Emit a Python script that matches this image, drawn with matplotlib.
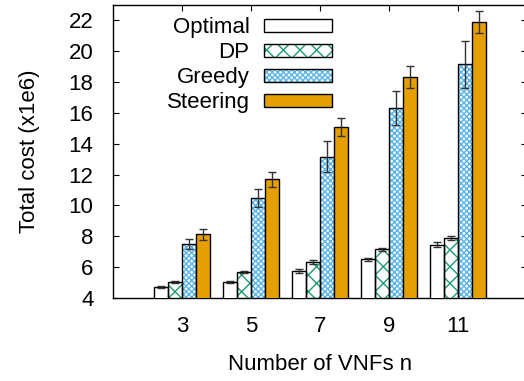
import matplotlib
matplotlib.use("Agg")
import matplotlib.pyplot as plt
import numpy as np

plt.rcParams['font.family'] = ['Liberation Sans', 'DejaVu Sans']
plt.rcParams['hatch.linewidth'] = 1.0

# data
vnfs = ["3", "5", "7", "9", "11"]
methods = ["Optimal", "DP", "Greedy", "Steering"]
optimal = [4.7, 5.05, 5.75, 6.5, 7.45]
dp = [5.05, 5.7, 6.35, 7.15, 7.88]
greedy = [7.5, 10.5, 13.15, 16.35, 19.15]
steering = [8.12, 11.7, 15.1, 18.35, 21.9]
optimal_err = [0.08, 0.08, 0.1, 0.12, 0.15]
dp_err = [0.08, 0.08, 0.12, 0.12, 0.12]
greedy_err = [0.35, 0.6, 1.0, 1.1, 1.5]
steering_err = [0.35, 0.5, 0.6, 0.7, 0.7]

values = [optimal, dp, greedy, steering]
errors = [optimal_err, dp_err, greedy_err, steering_err]
faces = ["white", "white", "white", "#e69f00"]
hatch_colors = [None, "#1a9e6e", "#56b4e9", None]
hatches = [None, "xx", "xxxxxx", None]

fs = 16
fig = plt.figure(figsize=(5.24, 3.81), dpi=100)
ax = fig.add_axes([113 / 524, 83 / 381, 414 / 524, 293 / 381])

x = np.arange(len(vnfs))
width = 0.2
handles = []
for i, name in enumerate(methods):
    pos = x + (i - 1.5) * width
    if hatches[i]:
        ax.bar(pos, values[i], width, color="white",
               edgecolor=hatch_colors[i], hatch=hatches[i], linewidth=0, zorder=2)
    ax.bar(pos, values[i], width, color=faces[i] if not hatches[i] else "none",
           edgecolor="black", linewidth=1.0, zorder=3)
    ax.errorbar(pos, values[i], yerr=errors[i], fmt="none", ecolor="#333333",
                elinewidth=1.0, capsize=3, capthick=1.0, zorder=4)
    # legend proxies: hatch layer + black outline
    h = plt.Rectangle((0, 0), 1, 1, facecolor=faces[i] if not hatches[i] else "white",
                      edgecolor=hatch_colors[i] if hatches[i] else "black",
                      hatch=hatches[i], linewidth=0)
    h2 = plt.Rectangle((0, 0), 1, 1, facecolor="none", edgecolor="black", linewidth=1.0)
    handles.append((h, h2))

ax.set_xlim(-1, 5)
ax.set_ylim(4, 23)
ax.set_xticks(x)
ax.set_xticklabels(vnfs)
ax.set_yticks(np.arange(4, 23, 2))
ax.tick_params(direction="in", top=True, right=True, labelsize=fs, length=4)
ax.tick_params(axis="y", pad=14)
ax.tick_params(axis="x", pad=13)
for s in ax.spines.values():
    s.set_linewidth(1.0)

ax.set_xlabel("Number of VNFs n", fontsize=fs, labelpad=12)
ax.set_ylabel("Total cost (x1e6)", fontsize=fs, labelpad=21)

ax.legend(handles, methods, loc="upper left", bbox_to_anchor=(0.1, 1.0),
          frameon=False, markerfirst=False, fontsize=fs, handlelength=3.05,
          handleheight=0.55, labelspacing=0.18, handletextpad=0.65,
          borderaxespad=0.15)

fig.savefig("out.png", dpi=100)
